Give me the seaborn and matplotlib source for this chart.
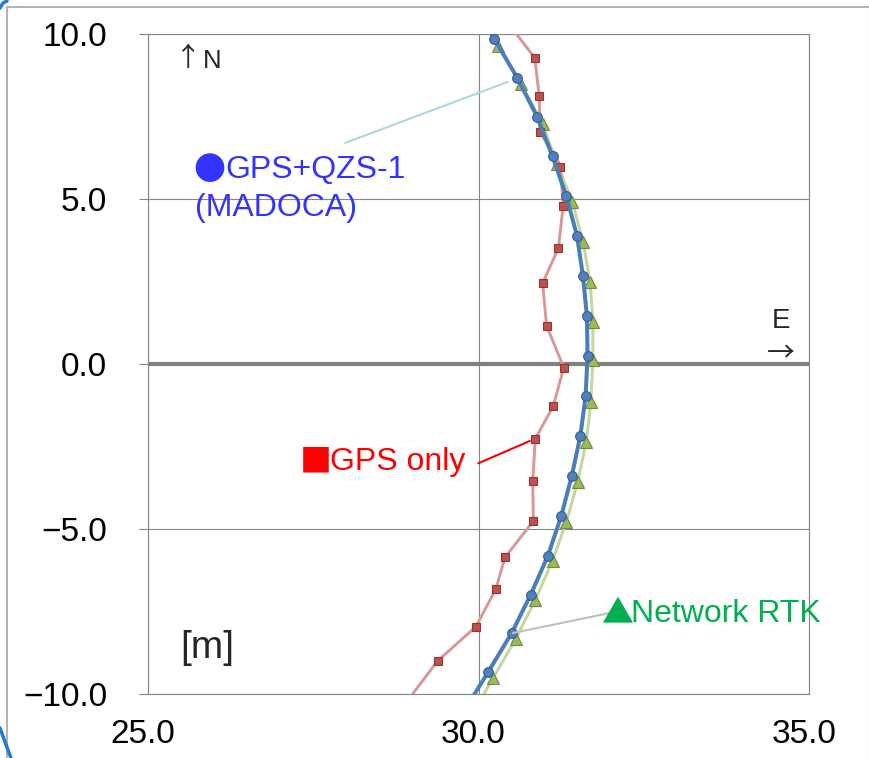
import matplotlib
matplotlib.use("Agg")
import matplotlib.pyplot as plt
import matplotlib.transforms as mtransforms
import seaborn as sns
import pandas as pd
from matplotlib.lines import Line2D

# ---------------- data (East [m], North [m]) ----------------
blue_e = [29.89, 30.24, 30.59, 30.89, 31.12, 31.33, 31.49, 31.58, 31.64, 31.65,
          31.62, 31.54, 31.41, 31.25, 31.05, 30.79, 30.50, 30.15, 29.79]
blue_n = [11.03, 9.85, 8.66, 7.48, 6.29, 5.08, 3.89, 2.67, 1.45, 0.25,
          -0.98, -2.19, -3.40, -4.62, -5.81, -6.99, -8.16, -9.32, -10.49]

green_e = [29.93, 30.29, 30.65, 30.97, 31.19, 31.42, 31.58, 31.69, 31.73, 31.73,
           31.70, 31.63, 31.50, 31.33, 31.12, 30.86, 30.56, 30.22, 29.88]
green_n = [10.79, 9.64, 8.48, 7.27, 6.06, 4.92, 3.71, 2.49, 1.28, 0.12,
           -1.16, -2.35, -3.58, -4.78, -5.96, -7.15, -8.34, -9.52, -10.69]

red_e = [30.42, 30.85, 30.92, 30.93, 31.24, 31.28, 31.21, 30.97, 31.03, 31.29,
         31.13, 30.86, 30.82, 30.83, 30.40, 30.26, 29.96, 29.38, 28.89]
red_n = [10.40, 9.28, 8.11, 7.04, 5.98, 4.79, 3.52, 2.45, 1.16, -0.11,
         -1.28, -2.26, -3.55, -4.76, -5.86, -6.83, -7.96, -9.00, -10.30]

x_ticks = [25.0, 30.0, 35.0]
y_ticks = [-10.0, -5.0, 0.0, 5.0, 10.0]

label_blue_sym, label_blue_1, label_blue_2 = "●", "GPS+QZS-1", "(MADOCA)"
label_red_sym, label_red = "■", "GPS only"
label_green_sym, label_green = "▲", "Network RTK"

# ---------------- figure ----------------
sns.set_theme(style="white")
plt.rcParams["font.family"] = ["Liberation Sans", "DejaVu Sans"]

W, H = 870, 758
fig = plt.figure(figsize=(W / 100, H / 100), dpi=100)
ax = fig.add_axes([148 / W, 1 - 694 / H, (809 - 148) / W, (694 - 34) / H])


def fp(x, y):
    return (x / W, 1 - y / H)


df_b = pd.DataFrame({"E": blue_e, "N": blue_n})
df_g = pd.DataFrame({"E": green_e, "N": green_n})
df_r = pd.DataFrame({"E": red_e, "N": red_n})

sns.lineplot(data=df_g, x="E", y="N", sort=False, estimator=None, ax=ax,
             color="#C3D69B", linewidth=2.1, marker="^", markersize=8,
             markerfacecolor="#9BBB59", markeredgecolor="#71893F",
             markeredgewidth=0.8, zorder=3)
sns.lineplot(data=df_r, x="E", y="N", sort=False, estimator=None, ax=ax,
             color="#D99795", linewidth=2.1, marker="s", markersize=6.3,
             markerfacecolor="#C0504D", markeredgecolor="#8C3836",
             markeredgewidth=0.8, zorder=4)
sns.lineplot(data=df_b, x="E", y="N", sort=False, estimator=None, ax=ax,
             color="#4A7EBB", linewidth=2.9, marker="o", markersize=7,
             markerfacecolor="#4F81BD", markeredgecolor="#385D8A",
             markeredgewidth=0.8, zorder=5)

ax.set_xlim(25, 35)
ax.set_ylim(-10, 10)
ax.set_xticks(x_ticks)
ax.set_yticks(y_ticks)
ax.set_xticklabels([f"{v:.1f}" for v in x_ticks])
ax.set_yticklabels([f"{v:.1f}".replace("-", "\u2212") for v in y_ticks])
ax.set_xlabel("")
ax.set_ylabel("")

ax.grid(True, color="#868686", linewidth=0.8)
ax.set_axisbelow(True)
ax.axhline(0, color="#808080", linewidth=3.0, zorder=2)
for s in ax.spines.values():
    s.set_color("#868686")
    s.set_linewidth(0.8)

ax.tick_params(axis="y", left=True, length=6.5, width=0.8, color="#868686",
               pad=23, labelsize=24, labelcolor="black")
ax.tick_params(axis="x", bottom=False, length=0, pad=18, labelsize=24,
               labelcolor="black")
shift = mtransforms.ScaledTranslation(-5 / 100, 0, fig.dpi_scale_trans)
for lab in ax.get_xticklabels():
    lab.set_transform(lab.get_transform() + shift)

# ---------------- annotations ----------------
cjk = ["Noto Sans CJK JP", "DejaVu Sans"]
fig.text(*fp(188, 59), "↑", fontsize=19, ha="center", va="center", family=cjk)
fig.text(*fp(203, 68), "N", fontsize=18.5, ha="left", va="baseline")
fig.text(*fp(781, 328), "E", fontsize=20, ha="center", va="baseline")
fig.text(*fp(781, 353), "→", fontsize=20, ha="center", va="center", family=cjk)
fig.text(*fp(180, 658), "[m]", fontsize=28, ha="left", va="baseline")

FS = 23
fig.text(*fp(209.7, 180), label_blue_sym, fontsize=FS, color="#3333FF",
         ha="center", va="baseline", family=cjk)
fig.text(*fp(225, 178.3), label_blue_1, fontsize=FS, color="#3333FF",
         ha="left", va="baseline")
fig.text(*fp(195, 216), label_blue_2, fontsize=FS, color="#3333FF",
         ha="left", va="baseline")

fig.text(*fp(315.3, 471), label_red_sym, fontsize=FS, color="#FF0000",
         ha="center", va="baseline", family=cjk)
fig.text(*fp(330, 470), label_red, fontsize=FS, color="#FF0000",
         ha="left", va="baseline")

fig.text(*fp(617.5, 622), label_green_sym, fontsize=FS, color="#00B050",
         ha="center", va="baseline", family=cjk)
fig.text(*fp(631, 621.7), label_green, fontsize=FS, color="#00B050",
         ha="left", va="baseline")

# leader lines from labels to data points
ax.annotate("", xy=(blue_e[2], blue_n[2]), xycoords="data",
            xytext=fp(345, 143), textcoords="figure fraction",
            arrowprops=dict(arrowstyle="-", color="#A9D8DE", lw=1.5,
                            shrinkA=0, shrinkB=7.5), zorder=6)
ax.annotate("", xy=(red_e[11], red_n[11]), xycoords="data",
            xytext=fp(478.3, 463.3), textcoords="figure fraction",
            arrowprops=dict(arrowstyle="-", color="#FF0000", lw=1.5,
                            shrinkA=0, shrinkB=4.3), zorder=6)
ax.annotate("", xy=(blue_e[16], blue_n[16]), xycoords="data",
            xytext=fp(608.3, 613.3), textcoords="figure fraction",
            arrowprops=dict(arrowstyle="-", color="#BFBFBF", lw=1.5,
                            shrinkA=0, shrinkB=1), zorder=6)

# outer slide frame
fig.add_artist(Line2D([7 / W, 1], [1 - 7 / H, 1 - 7 / H], color="#A6A6A6",
                      lw=1.2, transform=fig.transFigure))
fig.add_artist(Line2D([7 / W, 7 / W], [0, 1 - 7 / H], color="#A6A6A6",
                      lw=1.2, transform=fig.transFigure))
fig.add_artist(Line2D([869 / W, 869 / W], [0, 1 - 7 / H], color="#E0E0E0",
                      lw=1.0, transform=fig.transFigure))
fig.add_artist(Line2D([0, 3 / W, 7 / W], [1 - 8 / H, 1 - 3 / H, 1 - 1 / H],
                      color="#1F7BD0", lw=2.5, transform=fig.transFigure))
fig.add_artist(Line2D([0, 5 / W, 11 / W], [1 - 728 / H, 1 - 742 / H, 0],
                      color="#1F7BD0", lw=2.5, transform=fig.transFigure))

fig.savefig("out.png", dpi=100, facecolor="white")
